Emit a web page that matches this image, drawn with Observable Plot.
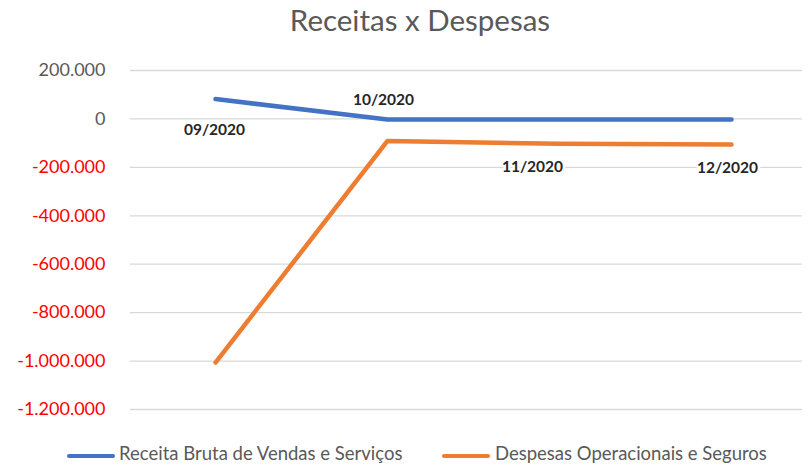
<!DOCTYPE html>
<html><head><meta charset="utf-8">
<script src="https://cdn.jsdelivr.net/npm/d3@7"></script>
<script src="https://cdn.jsdelivr.net/npm/@observablehq/plot@0.6"></script>
<style>
body{margin:0;background:#fff;font-family:Lato,sans-serif;}
#wrap{position:relative;width:807px;height:468px;overflow:hidden;}
#title{position:absolute;left:0;top:2px;width:840px;text-align:center;font-size:29.5px;color:#595959;}
#chart{position:absolute;left:0;top:45px;}
.leg{position:absolute;top:442px;font-size:18.5px;color:#595959;white-space:nowrap;}
.sw{position:absolute;top:454px;height:4px;border-radius:2px;}
</style></head>
<body><div id="wrap">
<div id="title">Receitas x Despesas</div>
<div id="chart"></div>
</div>
<script>
const months = ["09/2020","10/2020","11/2020","12/2020"];
const receita = [82000, -2000, -2000, -2000];
const despesas = [-1006000, -91000, -103000, -106000];
const seriesNames = ["Receita Bruta de Vendas e Serviços","Despesas Operacionais e Seguros"];
const yTicks = [200000, 0, -200000, -400000, -600000, -800000, -1000000, -1200000];

const colors = ["#4472C4", "#ED7D31"];
const labelOffsets = [[-1,31],[-4,-19],[-27,48],[-4,49]];

const data = [];
months.forEach((m,i)=>{
  data.push({month:m, value:receita[i], series:seriesNames[0]});
  data.push({month:m, value:despesas[i], series:seriesNames[1]});
});
const fmt = v => v === 0 ? "0" : (v<0?"-":"") + d3.format(",")(Math.abs(v)).replace(/,/g,".");

const labelMarks = months.map((m,i)=>Plot.text([{month:m, value:receita[i]}], {
  x:"month", y:"value", text:d=>d.month, dx:labelOffsets[i][0], dy:labelOffsets[i][1],
  fontWeight:"bold", fontSize:15.5, fill:"#262626", stroke:"white", strokeWidth:5, paintOrder:"stroke"
}));

const chart = Plot.plot({
  width:807, height:390,
  marginLeft:130, marginRight:5, marginTop:25, marginBottom:26,
  style:{fontFamily:"Lato, sans-serif", background:"white"},
  x:{type:"point", domain:months, padding:0.453, align:0.545, axis:null},
  y:{domain:[-1200000,200000], axis:null, label:null},
  color:{domain:seriesNames, range:colors},
  marks:[
    Plot.gridY(yTicks, {stroke:"#d9d9d9", strokeOpacity:1, strokeWidth:1.3}),
    Plot.axisY({ticks:yTicks, tickFormat:fmt, tickSize:0, tickPadding:25, fontSize:18, label:null,
      fill:d=> d<0 ? "#ff0000" : "#595959"}),
    Plot.line(data, {x:"month", y:"value", z:"series", stroke:"series", strokeWidth:4.5, strokeLinecap:"round", strokeLinejoin:"round"}),
    ...labelMarks
  ]
});
document.getElementById("chart").appendChild(chart);

const wrap = document.getElementById("wrap");
const legPos = [[67,115,119],[442,490,495]];
seriesNames.forEach((s,i)=>{
  const sw = document.createElement("div");
  sw.className="sw"; sw.style.left=legPos[i][0]+"px"; sw.style.width=(legPos[i][1]-legPos[i][0])+"px"; sw.style.background=colors[i];
  wrap.appendChild(sw);
  const t = document.createElement("div");
  t.className="leg"; t.style.left=legPos[i][2]+"px"; t.textContent=s;
  wrap.appendChild(t);
});
</script>
</body></html>
